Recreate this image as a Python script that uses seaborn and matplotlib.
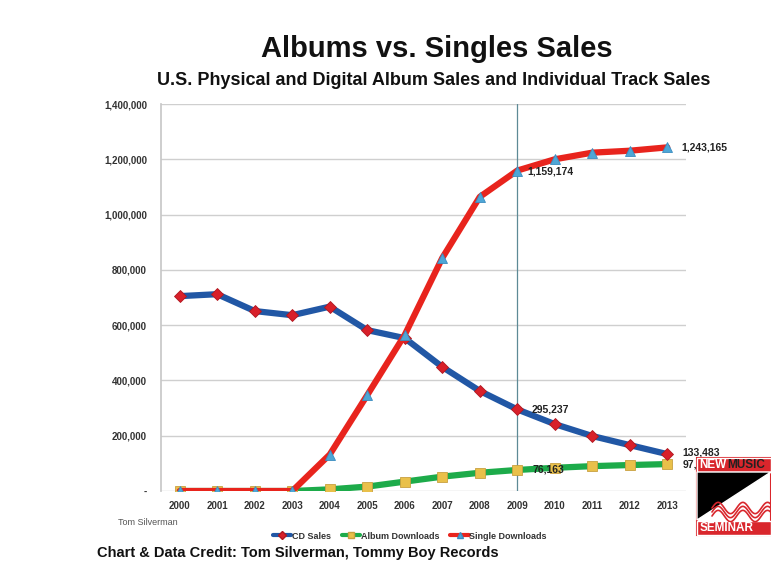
import matplotlib
matplotlib.use("Agg")
import matplotlib.pyplot as plt
import matplotlib.patches as mpatches
from matplotlib.ticker import FuncFormatter
import numpy as np
import pandas as pd
import seaborn as sns

years = [2000, 2001, 2002, 2003, 2004, 2005, 2006, 2007, 2008, 2009, 2010, 2011, 2012, 2013]
cd_sales = [705000, 712000, 651000, 636000, 667000, 582000, 553000, 449000, 362000, 295237, 242000, 199000, 166000, 133483]
album_downloads = [0, 0, 0, 0, 6000, 16000, 34000, 52000, 66000, 76163, 84000, 90000, 94000, 97424]
single_downloads = [0, 0, 0, 0, 132000, 347000, 565000, 843000, 1064000, 1159174, 1200000, 1224000, 1231000, 1243165]
series_names = ["CD Sales", "Album Downloads", "Single Downloads"]
yticks = [0, 200000, 400000, 600000, 800000, 1000000, 1200000, 1400000]

df = pd.DataFrame({
    "idx": list(range(len(years))) * 3,
    "value": cd_sales + album_downloads + single_downloads,
    "series": sum([[s] * len(years) for s in series_names], []),
})

sns.set_theme(style="white")
plt.rcParams["font.family"] = ["Liberation Sans", "DejaVu Sans"]

fig = plt.figure(figsize=(7.71, 5.64), dpi=100)
ax = fig.add_axes([0.2088, 0.1294, 0.681, 0.6862])

styles = {
    "Album Downloads": dict(color="#1dab4a", marker="s", mfc="#e9c04a", mec="#c9a040", ms=7, z=2),
    "CD Sales": dict(color="#2157a5", marker="D", mfc="#d8202a", mec="#b01820", ms=6, z=3),
    "Single Downloads": dict(color="#e8241d", marker="^", mfc="#4ea6d6", mec="#3a8cc0", ms=7, z=4),
}
for name in ["Album Downloads", "CD Sales", "Single Downloads"]:
    st = styles[name]
    sub = df[df["series"] == name]
    sns.lineplot(data=sub, x="idx", y="value", ax=ax, color=st["color"], linewidth=4.5,
                 marker=st["marker"], markersize=st["ms"], markerfacecolor=st["mfc"],
                 markeredgecolor=st["mec"], markeredgewidth=0.6, zorder=st["z"], label=name,
                 legend=False)

ax.set_xlim(-0.5, 13.5)
ax.set_ylim(0, 1400000)
ax.set_xticks(range(len(years)))
ax.set_xticklabels([str(y) for y in years])
ax.set_yticks(yticks)
ax.yaxis.set_major_formatter(FuncFormatter(lambda v, p: "-" if v == 0 else f"{int(v):,}"))
ax.tick_params(axis="both", labelsize=7, colors="#333333", length=0)
ax.tick_params(axis="x", pad=7)
ax.tick_params(axis="y", pad=10)
for lab in ax.get_xticklabels() + ax.get_yticklabels():
    lab.set_fontweight("bold")
ax.set_xlabel("")
ax.set_ylabel("")
ax.yaxis.grid(True, color="#cfcfcf", linewidth=1.0)
ax.set_axisbelow(True)
for side in ["top", "right"]:
    ax.spines[side].set_visible(False)
ax.spines["left"].set_color("#c8c8c8")
ax.spines["bottom"].set_visible(False)

# vertical marker at 2009
i09 = years.index(2009)
ax.axvline(i09, color="#5d8a96", linewidth=0.9, zorder=1)

# value annotations
lab_kw = dict(fontsize=7.5, fontweight="bold", color="#222222", zorder=6)
ax.annotate(f"{single_downloads[-1]:,}", (13, single_downloads[-1]), xytext=(10, 0),
            textcoords="offset points", va="center", ha="left", **lab_kw)
ax.annotate(f"{single_downloads[i09]:,}", (i09, single_downloads[i09]), xytext=(7, -1),
            textcoords="offset points", va="center", ha="left", **lab_kw)
ax.annotate(f"{cd_sales[i09]:,}", (i09, cd_sales[i09]), xytext=(10, 0),
            textcoords="offset points", va="center", ha="left", **lab_kw)
ax.annotate(f"{cd_sales[-1]:,}", (13, cd_sales[-1]), xytext=(11, 1),
            textcoords="offset points", va="center", ha="left", **lab_kw)
ax.annotate(f"{album_downloads[-1]:,}", (13, album_downloads[-1]), xytext=(11, 0),
            textcoords="offset points", va="center", ha="left", **lab_kw)
ax.annotate(f"{album_downloads[i09]:,}", (i09, album_downloads[i09]), xytext=(11, 0),
            textcoords="offset points", va="center", ha="left", **lab_kw)

# legend below the axes
handles = [plt.Line2D([0], [0], color=styles[n]["color"], lw=3, marker=styles[n]["marker"],
                      mfc=styles[n]["mfc"], mec=styles[n]["mec"], ms=4) for n in series_names]
leg = fig.legend(handles, series_names, loc="center", bbox_to_anchor=(0.532, 0.0496), ncol=3,
                 frameon=False, handlelength=2.0, handletextpad=0.1, columnspacing=1.2,
                 prop={"weight": "bold", "size": 6.5})
for t in leg.get_texts():
    t.set_color("#333333")

# titles and credits
fig.text(0.567, 0.913, "Albums vs. Singles Sales", ha="center", va="center",
         fontsize=21, fontweight="bold", color="#111111")
fig.text(0.563, 0.858, "U.S. Physical and Digital Album Sales and Individual Track Sales", ha="center",
         va="center", fontsize=13, fontweight="bold", color="#111111")
fig.text(0.153, 0.073, "Tom Silverman", ha="left", va="center", fontsize=6.5, color="#555555")
fig.text(0.126, 0.019, "Chart & Data Credit: Tom Silverman, Tommy Boy Records", ha="left",
         va="center", fontsize=10.5, fontweight="bold", color="#111111")

# New Music Seminar badge
W, H = 771, 564
def fx(px):
    return px / W
def fy(py):
    return 1 - py / H
x0, x1, yt, yb = 697, 771, 458, 535
red = "#d9262c"
fig.patches.append(mpatches.Rectangle((fx(x0), fy(yb)), fx(x1) - fx(x0), fy(yt) - fy(yb),
                                      transform=fig.transFigure, facecolor="white",
                                      edgecolor=red, linewidth=1.5, zorder=5))
fig.patches.append(mpatches.Rectangle((fx(x0), fy(472)), fx(x1) - fx(x0), fy(yt) - fy(472),
                                      transform=fig.transFigure, facecolor=red, zorder=6))
fig.patches.append(mpatches.Polygon([(fx(x0), fy(472)), (fx(x1), fy(472)), (fx(x0), fy(520))],
                                    closed=True, transform=fig.transFigure, facecolor="black", zorder=6))
fig.patches.append(mpatches.Rectangle((fx(x0), fy(yb)), fx(x1) - fx(x0), fy(521) - fy(yb),
                                      transform=fig.transFigure, facecolor=red, zorder=6))
wx = np.linspace(fx(712), fx(771), 80)
for off in (0, 4, 8):
    wy = fy(508 + off) + 0.01 * np.sin((wx - fx(712)) * 2 * np.pi / 0.032)
    fig.lines.append(plt.Line2D(wx, wy, transform=fig.transFigure, color=red, lw=1.2, zorder=7))
fig.text(fx(699), fy(465), "NEW", color="white", fontsize=8.5, fontweight="bold", va="center", zorder=8)
fig.text(fx(727), fy(465), "MUSIC", color="#222222", fontsize=8.5, fontweight="bold", va="center", zorder=8)
fig.text(fx(700), fy(528), "SEMINAR", color="white", fontsize=8.5, fontweight="bold", va="center", zorder=8)

fig.savefig("out.png", dpi=100)
